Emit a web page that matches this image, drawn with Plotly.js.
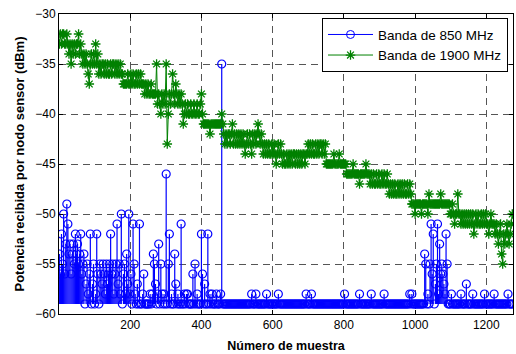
<!DOCTYPE html>
<html><head><meta charset="utf-8">
<script src="https://cdn.plot.ly/plotly-3.0.1.min.js"></script>
<style>html,body{margin:0;padding:0;background:#fff}#chart{width:516px;height:354px}</style>
</head><body><div id="chart"></div>
<script>
// sample number of the k-th stored value = firstSample + k*sampleStep
const firstSample = 1;
const sampleStep = 3;

// Banda de 850 MHz (dBm), one value every 3 samples
const band850 = [
 -54,-56,-52,-55,-50,-56,-53,-49,-51,-54,
 -53,-56,-54,-53,-55,-52,-54,-53,-55,-54,
 -52,-56,-55,-54,-59,-57,-55,-58,-56,-52,
 -59,-57,-55,-59,-58,-52,-56,-59,-55,-56,
 -57,-55,-56,-58,-55,-57,-56,-55,-52,-56,
 -55,-58,-56,-55,-51,-57,-55,-58,-50,-59,
 -56,-55,-58,-54,-57,-50,-58,-56,-59,-51,
 -55,-58,-59,-57,-59,-51,-59,-59,-58,-56,
 -59,-59,-59,-59,-59,-58,-59,-58,-54,-55,
 -57,-59,-58,-53,-59,-55,-58,-59,-58,-59,
 -46,-59,-55,-52,-59,-58,-59,-59,-54,-57,
 -59,-58,-59,-59,-51,-59,-59,-58,-59,-58,
 -58,-59,-59,-59,-59,-56,-59,-55,-59,-58,
 -59,-59,-59,-52,-56,-59,-57,-59,-59,-52,
 -59,-58,-59,-58,-59,-59,-59,-58,-59,-59,
 -59,-58,-35,-59,-59,-59,-59,-59,-59,-59,
 -59,-59,-59,-59,-59,-59,-59,-59,-59,-59,
 -59,-59,-59,-59,-59,-59,-59,-59,-59,-59,
 -58,-59,-59,-59,-58,-59,-59,-59,-59,-59,
 -59,-59,-59,-59,-58,-59,-59,-59,-59,-59,
 -59,-59,-59,-59,-59,-58,-59,-59,-59,-59,
 -59,-59,-59,-59,-59,-59,-59,-59,-59,-59,
 -59,-59,-59,-59,-59,-59,-59,-59,-59,-59,
 -59,-58,-59,-59,-59,-59,-58,-59,-59,-59,
 -59,-59,-59,-59,-59,-59,-59,-59,-59,-59,
 -59,-59,-59,-59,-59,-59,-59,-59,-59,-59,
 -59,-59,-59,-59,-59,-59,-59,-58,-59,-59,
 -59,-59,-59,-59,-59,-59,-59,-59,-59,-59,
 -59,-58,-59,-59,-59,-59,-59,-59,-59,-59,
 -59,-59,-58,-59,-59,-59,-59,-59,-59,-59,
 -59,-59,-59,-59,-58,-59,-59,-59,-59,-59,
 -59,-59,-59,-59,-59,-59,-59,-59,-59,-59,
 -59,-59,-59,-59,-59,-59,-59,-59,-58,-59,
 -58,-59,-59,-59,-59,-59,-59,-59,-59,-59,
 -59,-59,-54,-55,-59,-58,-59,-55,-51,-56,
 -52,-59,-57,-55,-51,-58,-53,-56,-55,-56,
 -57,-58,-52,-55,-59,-59,-59,-58,-59,-59,
 -59,-59,-59,-59,-59,-59,-58,-59,-59,-59,
 -59,-57,-59,-59,-59,-59,-59,-58,-59,-59,
 -59,-59,-59,-59,-59,-59,-59,-59,-58,-59,
 -59,-59,-59,-59,-59,-59,-59,-58,-59,-59,
 -59,-59,-59,-59,-59,-59,-59,-59,-59,-59,
 -58,-59,-59,-59,-59
];

// Banda de 1900 MHz (dBm), one value every 3 samples
const band1900 = [
 -33,-32,-33,-32,-32,-33,-33,-32,-33,-34,-33,-35,-33,-34,
 -33,-34,-33,-33,-32,-34,-33,
 -34,-35,-34,-35,-34,-35,-36,-37,-35,-34,-35,-34,-35,-33,-35,-34,
 -36,-35,-36,-35,-35,-36,-35,-36,-35,-36,-36,-35,-36,-35,-35,-36,-35,-36,-35,-36,-35,-36,
 -36,-37,-37,-37,-37,-36,-37,-37,-36,-37,-36,-37,-37,-36,-37,-36,-37,-36,-37,-37,-37,
 -38,-37,-38,-37,-38,-38,-37,-38,-38,-38,
 -38,-35,-39,-38,-39,-40,-38,-39,-38,-39,-35,-43,-40,-38,-39,-38,-36,-38,-39,-37,-38,-39,
 -38,-39,-38,-39,-41,-40,-39,-40,-39,-40,-40,
 -39,-40,-40,-39,-40,-40,-39,-40,-40,-39,-38,-40,
 -41,-41,-41,-41,-41,-41,-42,-41,-41,-41,-41,-41,-41,-41,-41,-41,-41,-40,-41,
 -42,-43,-42,-43,-42,-42,-43,-42,-41,-43,-42,-43,-42,-43,-42,-43,-42,-43,-42,-43,
 -44,-43,-42,-43,-42,-43,-44,-42,-43,-42,-43,-42,-41,-42,-43,-42,-43,
 -44,-43,-44,-43,-44,-43,-44,-44,-43,-44,-43,-44,-45,-44,-43,-44,
 -43,-44,-45,-44,-45,-45,-44,-45,-44,-45,-44,-45,-44,-44,-45,-44,-45,-44,-45,-44,
 -45,-44,-44,-45,-44,-44,
 -43,-44,-43,-44,-43,-44,-44,-43,-44,-43,-44,-43,-43,-44,-43,-44,-43,
 -45,-45,-45,-45,-45,-45,-45,-44,-45,-45,-45,-45,-44,-45,-45,-45,-45,-45,-45,
 -46,-46,-46,-46,-46,-46,-45,-46,-46,-46,-46,-46,-47,-46,-46,-46,-46,-46,-45,-46,-46,-46,
 -47,-46,-47,-46,-47,-47,-46,-47,-46,-47,-47,-46,-47,-46,-47,-47,-46,-47,-48,
 -47,-48,-47,-48,-47,-48,-48,-47,-48,-47,-48,-47,-48,-47,-48,-48,-47,-48,-47,-48,
 -49,-49,-49,-50,-49,-49,-49,-49,-49,-50,-49,-49,-49,-49,-49,-50,-48,-49,-49,-49,
 -49,-49,-49,-49,-49,-49,-49,-48,-49,-49,-49,-49,-49,-49,-49,-49,-50,
 -50,-49,-50,-51,-50,-50,-48,-50,-50,-51,-50,-51,-50,-51,-50,-51,-50,-51,-50,-51,
 -50,-52,-51,-50,-51,-50,-51,-51,-50,-51,-50,-51,-50,-51,-51,-52,-51,-50,-51,-51,-51,
 -52,-51,-52,-53,-52,-51,-54,-55,-52,-53,-52,-51,-52,-53,-52,-51,-50
];

const seriesNames = ["Banda de 850 MHz", "Banda de 1900 MHz"];
const xTicks = [200, 400, 600, 800, 1000, 1200];
const yTicks = [-60, -55, -50, -45, -40, -35, -30];
const stemBase = -59;

const blue = '#0000ff', green = '#008000';
const x850 = band850.map((v, k) => firstSample + k * sampleStep);
const x1900 = band1900.map((v, k) => firstSample + k * sampleStep);

// stems from base to each value
const sx = [], sy = [];
band850.forEach((v, k) => {
  if (v !== stemBase) { sx.push(x850[k], x850[k], null); sy.push(stemBase, v, null); }
});

const circle = {symbol: 'circle-open', size: 8, color: blue, line: {width: 1.2, color: blue}};
const star = {symbol: 'asterisk-open', size: 8, color: green, line: {width: 1.3, color: green}};

const traces = [
  {x: sx, y: sy, type: 'scatter', mode: 'lines', line: {color: blue, width: 1.2}, showlegend: false, hoverinfo: 'skip'},
  {x: x850, y: band850, type: 'scatter', mode: 'markers', showlegend: false, marker: circle},
  {x: [null], y: [null], type: 'scatter', mode: 'lines+markers', name: seriesNames[0],
   line: {color: blue, width: 1}, marker: {symbol: 'circle-open', size: 8, color: blue, line: {width: 1, color: blue}}},
  {x: x1900, y: band1900, type: 'scatter', mode: 'lines+markers', name: seriesNames[1],
   line: {color: green, width: 1}, marker: star}
];

const axisCommon = {
  ticks: 'inside', ticklen: 4, tickcolor: '#000', tickwidth: 1,
  showline: true, linecolor: '#000', linewidth: 1, mirror: 'ticks',
  showgrid: true, gridcolor: '#555', gridwidth: 1, griddash: '7px,5px',
  zeroline: false, automargin: false, tickfont: {size: 12, color: '#000'}
};

const layout = {
  width: 516, height: 354,
  margin: {l: 59, r: 3, t: 14, b: 40},
  paper_bgcolor: '#fff', plot_bgcolor: '#fff',
  font: {family: 'Liberation Sans, Arial, sans-serif', size: 12, color: '#000'},
  xaxis: Object.assign({}, axisCommon, {
    range: [0, 1275], tickvals: xTicks,
    title: {text: 'Número de muestra', font: {size: 12.5, weight: 'bold'}, standoff: 9}
  }),
  yaxis: Object.assign({}, axisCommon, {
    range: [-60, -30], tickvals: yTicks,
    title: {text: 'Potencia recibida por nodo sensor (dBm)', font: {size: 13, weight: 'bold'}, standoff: 7}
  }),
  showlegend: true,
  legend: {x: 0.989, xanchor: 'right', y: 0.986, yanchor: 'top', bgcolor: '#fff',
           bordercolor: '#000', borderwidth: 1, font: {size: 13.5}, itemwidth: 45, tracegroupgap: 0}
};

Plotly.newPlot('chart', traces, layout, {displayModeBar: false, staticPlot: true});
</script>
</body></html>
